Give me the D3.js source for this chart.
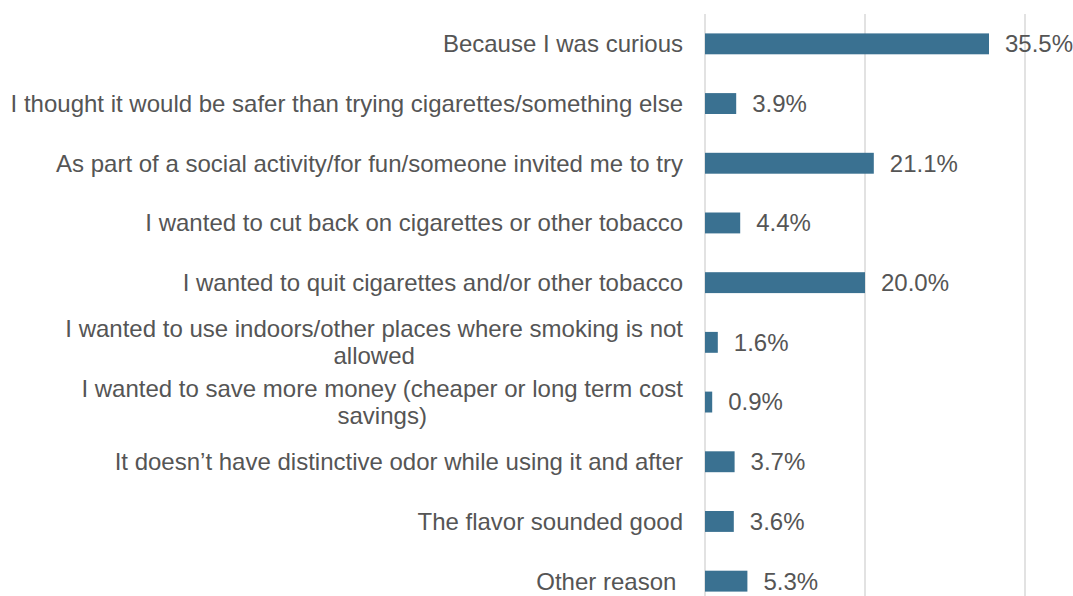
<!DOCTYPE html>
<html>
<head>
<meta charset="utf-8">
<script src="https://cdn.jsdelivr.net/npm/d3@7"></script>
<style>
  html, body { margin: 0; padding: 0; background: #fff; }
  svg { display: block; }
  text { font-family: "Liberation Sans", Arial, sans-serif; }
</style>
</head>
<body>
<svg id="chart" width="1073" height="596"></svg>
<script>
// Reasons for first trying the product (percent of respondents)
const categories = [
  ["Because I was curious"],
  ["I thought it would be safer than trying cigarettes/something else"],
  ["As part of a social activity/for fun/someone invited me to try"],
  ["I wanted to cut back on cigarettes or other tobacco"],
  ["I wanted to quit cigarettes and/or other tobacco"],
  ["I wanted to use indoors/other places where smoking is not", "allowed"],
  ["I wanted to save more money (cheaper or long term cost", "savings)"],
  ["It doesn\u2019t have distinctive odor while using it and after"],
  ["The flavor sounded good"],
  ["Other reason\u00a0"]
];
const values = [35.5, 3.9, 21.1, 4.4, 20.0, 1.6, 0.9, 3.7, 3.6, 5.3];
const gridTicks = [0, 20, 40];

const svg = d3.select("#chart");
const W = 1073, H = 596;
const x0 = 705;
const fontSize = 24;
const textColor = "#555555";

const x = d3.scaleLinear().domain([0, 40]).range([x0, x0 + 320]);
const y = d3.scaleBand()
  .domain(d3.range(categories.length))
  .range([14, 14 + 59.7 * categories.length])
  .paddingInner(0.65)
  .paddingOuter(0.325);

// vertical gridlines
svg.append("g")
  .selectAll("line")
  .data(gridTicks)
  .join("line")
  .attr("x1", d => x(d)).attr("x2", d => x(d))
  .attr("y1", 14).attr("y2", H)
  .attr("stroke", "#d9d9d9")
  .attr("stroke-width", 1.5);

// bars
svg.append("g")
  .selectAll("rect")
  .data(values)
  .join("rect")
  .attr("x", x(0))
  .attr("y", (d, i) => y(i))
  .attr("width", d => x(d) - x(0))
  .attr("height", y.bandwidth())
  .attr("fill", "#3A7191");

// value labels
svg.append("g")
  .selectAll("text")
  .data(values)
  .join("text")
  .attr("x", d => x(d) + 16)
  .attr("y", (d, i) => y(i) + y.bandwidth() / 2)
  .attr("dy", "0.35em")
  .attr("font-size", fontSize)
  .attr("fill", textColor)
  .text(d => d.toFixed(1) + "%");

// category labels (right aligned, centred lines when wrapped)
const lineH = 27;
const labels = svg.append("g")
  .selectAll("text")
  .data(categories)
  .join("text")
  .attr("font-size", fontSize)
  .attr("fill", textColor)
  .attr("y", (d, i) => y(i) + y.bandwidth() / 2 - (d.length - 1) * lineH / 2)
  .attr("dy", "0.35em");

labels.each(function(lines, i) {
  const t = d3.select(this);
  const cy = y(i) + y.bandwidth() / 2 - (lines.length - 1) * lineH / 2;
  if (lines.length === 1) {
    t.attr("x", 683).attr("text-anchor", "end").text(lines[0]);
  } else {
    // measure the longest line, then centre each line within it
    const tmp = svg.append("text").attr("font-size", fontSize).text(lines[0]);
    const w = tmp.node().getComputedTextLength();
    tmp.remove();
    const cx = 683 - w / 2;
    t.attr("text-anchor", "middle");
    lines.forEach((ln, k) => {
      t.append("tspan")
        .attr("x", cx)
        .attr("y", cy + k * lineH)
        .attr("dy", "0.35em")
        .text(ln);
    });
  }
});
</script>
</body>
</html>
